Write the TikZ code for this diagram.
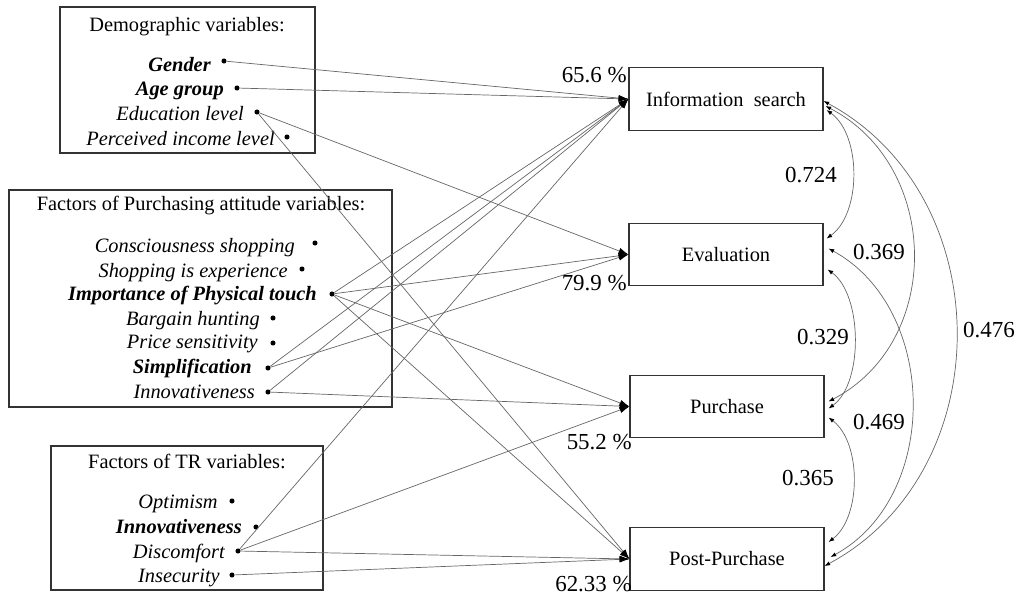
\documentclass[tikz,border=0pt]{standalone}
\usepackage{fontspec}
\setmainfont{Liberation Serif}
\usetikzlibrary{arrows.meta, positioning}

\begin{document}
\begin{tikzpicture}[x=0.025cm, y=-0.025cm,
    stage/.style={draw=black!80, line width=0.8pt, minimum width=4.85cm, minimum height=1.56cm, font=\fontsize{14.5}{17}\selectfont},
    group/.style={draw=black!80, line width=0.8pt},
    heading/.style={anchor=base, inner sep=0, font=\fontsize{14.5}{17}\selectfont},
    var/.style={anchor=base east, inner sep=0, font=\fontsize{14.5}{17}\selectfont\itshape},
    dot/.style={circle, fill=black, inner sep=0, minimum size=3.6pt},
    effect/.style={draw=black!60, line width=0.5pt, -{Latex[length=7pt,width=4.5pt,black]}},
    corr/.style={draw=black!60, line width=0.5pt, {Latex[length=4pt,width=3pt,black]}-{Latex[length=4pt,width=3pt,black]}},
    coef/.style={inner sep=0, font=\fontsize{16.3}{19}\selectfont}]
\useasboundingbox (0,0) rectangle (1022,595);

% Demographic variables
\draw[group] (60,7) rectangle (315,153);
\node[heading] (h-demo) at (187,31) {Demographic variables:};
\node[var] (t-gender) at (211,71) {\bfseries Gender};
\node[var] (t-age) at (224,95) {\bfseries Age group};
\node[var] (t-edu) at (244,120) {Education level};
\node[var] (t-income) at (275,145) {Perceived income level};
\node[dot] (gender) at (224,61) {};
\node[dot] (age) at (237,88) {};
\node[dot] (edu) at (257,112) {};
\node[dot] (income) at (287,137) {};

% Purchasing attitude variables
\draw[group] (9,190) rectangle (392,407);
\node[heading] (h-attitude) at (201,210) {Factors of Purchasing attitude variables:};
\node[var] (t-conscious) at (295,252) {Consciousness shopping};
\node[var] (t-experience) at (288,277) {Shopping is experience};
\node[var] (t-touch) at (317,300) {\bfseries Importance of Physical touch};
\node[var] (t-bargain) at (260,325) {Bargain hunting};
\node[var] (t-price) at (258,348) {Price sensitivity};
\node[var] (t-simple) at (252,373) {\bfseries Simplification};
\node[var] (t-innov) at (255,398) {Innovativeness};
\node[dot] (conscious) at (315,243) {};
\node[dot] (experience) at (302,269) {};
\node[dot] (touch) at (332,294) {};
\node[dot] (bargain) at (273,318) {};
\node[dot] (price) at (273,343) {};
\node[dot] (simple) at (268,368) {};
\node[dot] (innov) at (268,392) {};

% TR variables
\draw[group] (51,446) rectangle (323,590);
\node[heading] (h-tr) at (187,468) {Factors of TR variables:};
\node[var] (t-optimism) at (218,508) {Optimism};
\node[var] (t-trinnov) at (242,533) {\bfseries Innovativeness};
\node[var] (t-discomfort) at (225,558) {Discomfort};
\node[var] (t-insecurity) at (220,582) {Insecurity};
\node[dot] (optimism) at (232,501) {};
\node[dot] (trinnov) at (256,527) {};
\node[dot] (discomfort) at (238,551) {};
\node[dot] (insecurity) at (232,575) {};

% Decision stages
\node[stage] (info) at (726,99) {Information\ \ search};
\node[stage] (eval) at (726,254.5) {Evaluation};
\node[stage] (purch) at (727,406.5) {Purchase};
\node[stage] (post) at (727,559) {Post-Purchase};

% Explained variance
\node[coef, anchor=east] (r-info) at (627,75) {65.6 \%};
\node[coef, anchor=east] (r-eval) at (627,283) {79.9 \%};
\node[coef, anchor=east] (r-purch) at (632,442) {55.2 \%};
\node[coef, anchor=east] (r-post) at (632,584) {62.33 \%};

% Effects
\draw[effect] (gender) -- (info.west);
\draw[effect] (age) -- (info.west);
\draw[effect] (edu) -- (eval.west);
\draw[effect] (edu) -- (post.west);
\draw[effect] (touch) -- (info.west);
\draw[effect] (touch) -- (eval.west);
\draw[effect] (touch) -- (purch.west);
\draw[effect] (touch) -- (post.west);
\draw[effect] (simple) -- (info.west);
\draw[effect] (simple) -- (eval.west);
\draw[effect] (innov) -- (info.west);
\draw[effect] (innov) -- (purch.west);
\draw[effect] (discomfort) -- (info.west);
\draw[effect] (discomfort) -- (purch.west);
\draw[effect] (discomfort) -- (post.west);
\draw[effect] (insecurity) -- (post.west);

% Correlations between stages
\draw[corr] ([shift={(3,11)}]info.east) .. controls +(35,25) and +(35,-25) .. ([shift={(3,-16)}]eval.east);
\draw[corr] ([shift={(2,7)}]info.east) .. controls +(115,60) and +(115,-60) .. ([shift={(4,-5)}]purch.east);
\draw[corr] ([shift={(0,2)}]info.east) .. controls +(176,95) and +(176,-95) .. ([shift={(0,7)}]post.east);
\draw[corr] ([shift={(4,15)}]eval.east) .. controls +(35,25) and +(35,-25) .. ([shift={(4,2)}]purch.east);
\draw[corr] ([shift={(5,-6)}]eval.east) .. controls +(110,60) and +(110,-60) .. ([shift={(6,-2)}]post.east);
\draw[corr] ([shift={(4,11)}]purch.east) .. controls +(33,25) and +(33,-25) .. ([shift={(4,-17)}]post.east);

\node[coef] (c-ie) at (811,175) {0.724};
\node[coef] (c-ip) at (879,252) {0.369};
\node[coef] (c-ep) at (823,337) {0.329};
\node[coef] (c-io) at (989,330) {0.476};
\node[coef] (c-eo) at (879,422) {0.469};
\node[coef] (c-po) at (808,478) {0.365};

\end{tikzpicture}
\end{document}
